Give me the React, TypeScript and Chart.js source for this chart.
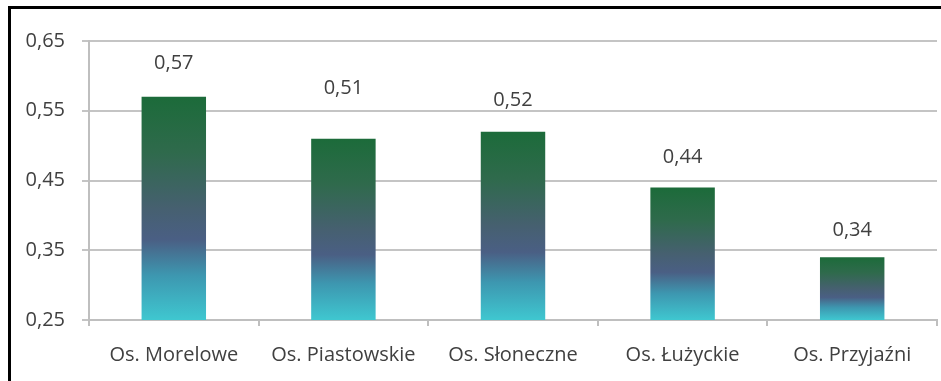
import React, { useEffect, useRef } from "react";
import { Chart, registerables } from "chart.js";

Chart.register(...registerables);

const categories = ["Os. Morelowe", "Os. Piastowskie", "Os. Słoneczne", "Os. Łużyckie", "Os. Przyjaźni"];
const values = [0.57, 0.51, 0.52, 0.44, 0.34];
const yTicks = [0.25, 0.35, 0.45, 0.55, 0.65];
// vertical gap (px) between bar top and its value label, as placed in the reference
const labelLift = [34, 50, 31, 30, 27];

const FONT = "'Open Sans', sans-serif";
const TEXT = "#404040";

const fmt = (v: number) => v.toFixed(2).replace(".", ",");

export default function App() {
  const ref = useRef<HTMLCanvasElement | null>(null);

  useEffect(() => {
    if (!ref.current) return;

    const gradientFor = (ctx: any) => {
      const chart = ctx.chart;
      const area = chart.chartArea;
      if (!area) return "#3a7a6a";
      const y = chart.scales.y;
      const v = ctx.raw as number;
      const top = y.getPixelForValue(v);
      const bottom = y.getPixelForValue(yTicks[0]);
      const g = chart.ctx.createLinearGradient(0, top, 0, bottom);
      g.addColorStop(0, "#1c6b3a");
      g.addColorStop(0.25, "#2f6a4c");
      g.addColorStop(0.5, "#466070");
      g.addColorStop(0.64, "#4a5f84");
      g.addColorStop(0.8, "#3d97b0");
      g.addColorStop(1, "#3fc7d0");
      return g;
    };

    const framePlugin = {
      id: "frame",
      afterDraw(chart: any) {
        const c = chart.ctx;
        c.save();
        c.fillStyle = "#000";
        c.fillRect(8, 6, 941 - 8, 3);
        c.fillRect(8, 6, 3, 381 - 6);
        c.restore();
      },
    };

    const labelPlugin = {
      id: "valueLabels",
      afterDatasetsDraw(chart: any) {
        const c = chart.ctx;
        const meta = chart.getDatasetMeta(0);
        c.save();
        c.font = `20px ${FONT}`;
        c.fillStyle = TEXT;
        c.textAlign = "center";
        c.textBaseline = "middle";
        meta.data.forEach((el: any, i: number) => {
          c.fillText(fmt(values[i]), el.x, el.y - labelLift[i]);
        });
        c.restore();
      },
    };

    const chart = new Chart(ref.current, {
      type: "bar",
      data: {
        labels: categories,
        datasets: [
          {
            data: values,
            backgroundColor: gradientFor,
            borderWidth: 0,
            barPercentage: 0.38,
            categoryPercentage: 1,
          },
        ],
      },
      options: {
        animation: false,
        responsive: false,
        maintainAspectRatio: false,
        layout: { padding: { left: 0, right: 4, top: 41, bottom: 0 } },
        plugins: { legend: { display: false }, tooltip: { enabled: false } },
        scales: {
          x: {
            grid: {
              display: true,
              drawOnChartArea: false,
              drawTicks: true,
              tickLength: 6,
              color: "#bfbfbf",
              lineWidth: 2,
            },
            border: { display: true, color: "#bfbfbf", width: 2 },
            ticks: {
              color: TEXT,
              font: { family: FONT, size: 20 },
              padding: 17,
              maxRotation: 0,
              autoSkip: false,
            },
            afterFit(scale: any) {
              scale.height = 61;
            },
          },
          y: {
            min: 0.25,
            max: 0.65,
            afterBuildTicks(scale: any) {
              scale.ticks = yTicks.map((v) => ({ value: v }));
            },
            grid: {
              color: "#c4c4c4",
              lineWidth: 2,
              tickLength: 7,
            },
            border: { display: true, color: "#bfbfbf", width: 2 },
            ticks: {
              color: TEXT,
              font: { family: FONT, size: 20 },
              padding: 17,
              callback: (v: any) => fmt(Number(v)),
            },
            afterFit(scale: any) {
              scale.width = 89;
            },
          },
        },
      },
      plugins: [framePlugin, labelPlugin],
    });

    return () => chart.destroy();
  }, []);

  return (
    <div style={{ position: "fixed", left: 0, top: 0, width: 941, height: 381, background: "#fff" }}>
      <canvas ref={ref} width={941} height={381} style={{ display: "block", width: 941, height: 381 }} />
    </div>
  );
}
